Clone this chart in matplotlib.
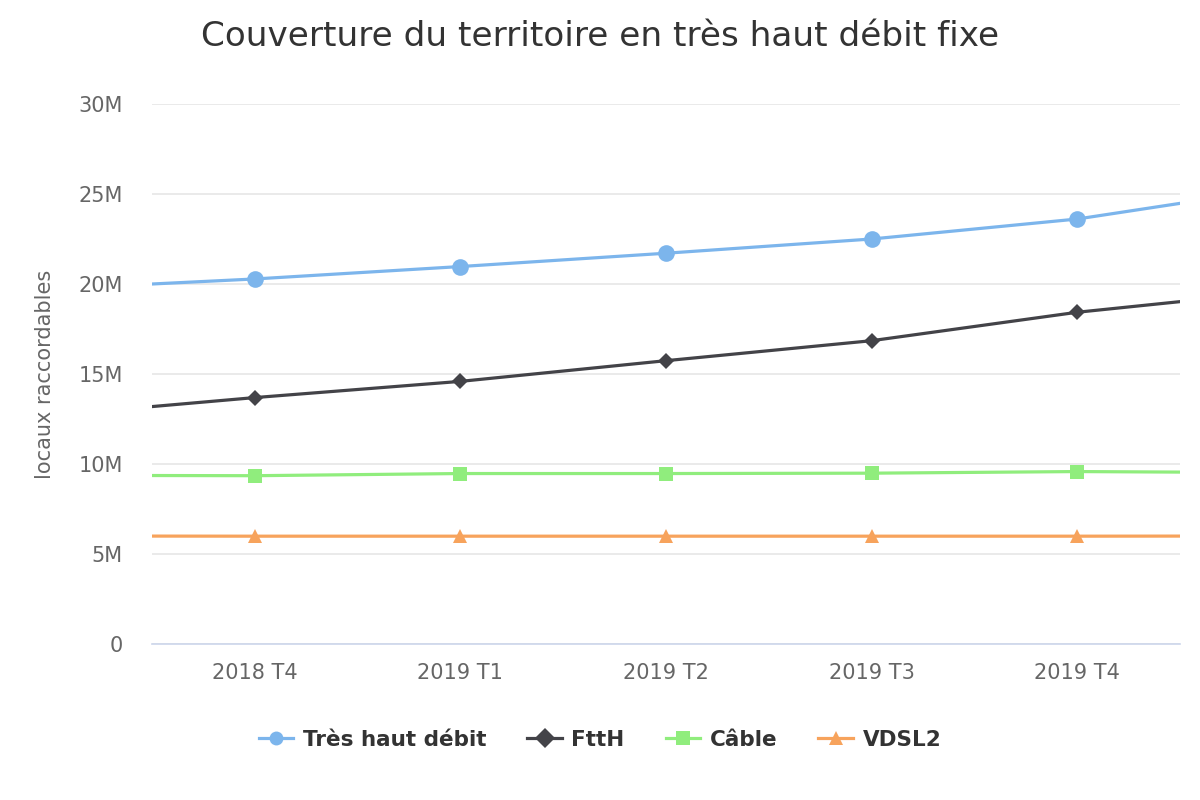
import numpy as np
import matplotlib
matplotlib.use("Agg")
import matplotlib.pyplot as plt
from matplotlib.ticker import FuncFormatter

# catégories (les points aux bords sont hors cadre, seules les lignes entrent)
categories = ["2018 T3", "2018 T4", "2019 T1", "2019 T2", "2019 T3", "2019 T4", "2020 T1"]

# valeurs en millions de locaux raccordables
tres_haut_debit = [19.72, 20.28, 20.97, 21.71, 22.50, 23.61, 25.35]
ftth = [12.69, 13.69, 14.59, 15.74, 16.85, 18.43, 19.61]
cable = [9.37, 9.35, 9.47, 9.47, 9.49, 9.58, 9.52]
vdsl2 = [6.00, 5.99, 5.99, 5.99, 5.99, 5.99, 6.00]

series = [
    ("Très haut débit", tres_haut_debit, "#7cb5ec", "o", 12),
    ("FttH", ftth, "#434348", "D", 8),
    ("Câble", cable, "#90ed7d", "s", 10),
    ("VDSL2", vdsl2, "#f7a35c", "^", 10),
]

plt.rcParams["font.family"] = ["DejaVu Sans"]

fig = plt.figure(figsize=(12, 8), dpi=100)
ax = fig.add_axes([152 / 1200, 1 - 644 / 800, (1180 - 152) / 1200, (644 - 104) / 800])

x = np.arange(len(categories)) - 1
for name, vals, color, marker, ms in series:
    ax.plot(x, np.array(vals) * 1e6, color=color, lw=2.3, marker=marker,
            markersize=ms, markeredgewidth=0, label=name, clip_on=True)

ax.set_xlim(-0.5, 4.5)
ax.set_ylim(0, 30e6)
ax.set_xticks(x[1:-1])
ax.set_xticklabels(categories[1:-1])
ax.set_yticks(np.arange(0, 31e6, 5e6))
ax.yaxis.set_major_formatter(FuncFormatter(lambda v, p: "0" if v == 0 else f"{int(v / 1e6)}M"))

ax.grid(axis="y", color="#e6e6e6", lw=1.2)
ax.set_axisbelow(True)
for s in ["top", "right", "left"]:
    ax.spines[s].set_visible(False)
ax.spines["bottom"].set_color("#ccd6eb")
ax.spines["bottom"].set_linewidth(1.2)
ax.tick_params(axis="both", length=0, labelsize=15, colors="#666666")
ax.tick_params(axis="x", pad=14)
ax.tick_params(axis="y", pad=21)

ax.set_ylabel("locaux raccordables", fontsize=15, color="#666666", labelpad=17)

fig.text(600 / 1200, 1 - 36 / 800, "Couverture du territoire en très haut débit fixe",
         ha="center", va="center", fontsize=24.7, color="#333333")

leg = fig.legend(loc="center", bbox_to_anchor=(600 / 1200, 1 - 740 / 800), ncol=4,
                 frameon=False, prop={"weight": "bold", "size": 15.5},
                 handlelength=1.6, columnspacing=1.9, handletextpad=0.45)
for t in leg.get_texts():
    t.set_color("#333333")
for h in leg.legend_handles:
    h.set_markersize(10)

fig.savefig("out.png", dpi=100)
